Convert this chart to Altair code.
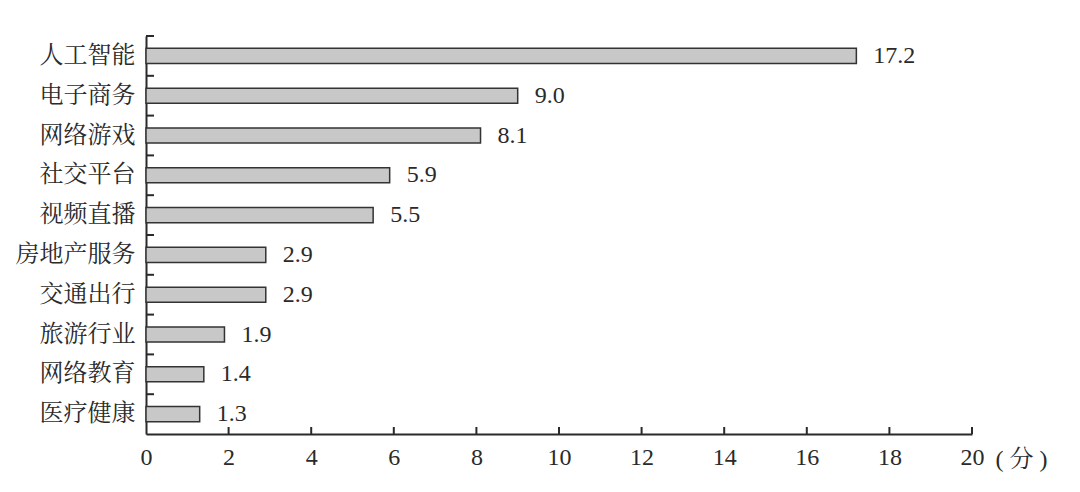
import altair as alt
import pandas as pd

categories = ["人工智能", "电子商务", "网络游戏", "社交平台", "视频直播",
              "房地产服务", "交通出行", "旅游行业", "网络教育", "医疗健康"]
values = [17.2, 9.0, 8.1, 5.9, 5.5, 2.9, 2.9, 1.9, 1.4, 1.3]
x_ticks = [2, 4, 6, 8, 10, 12, 14, 16, 18, 20]

df = pd.DataFrame({"cat": categories, "val": values,
                   "lab": [f"{v:.1f}" for v in values]})
ticks_df = pd.DataFrame({"t": x_ticks})

W, H = 826, 398
FONT = "Liberation Serif, Noto Serif CJK SC, Noto Sans CJK SC"
INK = "#2a2a2a"

xscale = alt.Scale(domain=[0, 20], nice=False, zero=True)
yscale = alt.Scale(domain=categories, paddingInner=0, paddingOuter=0)

xaxis = alt.Axis(values=[0] + x_ticks, format="d", tickSize=0,
                 labelPadding=11, labelFontSize=24, labelFont=FONT,
                 labelColor=INK, domainColor=INK, domainWidth=2,
                 labelFlush=False, labelBound=False, labelOverlap=False,
                 grid=False, title="( 分 )", titleFont=FONT,
                 titleFontSize=24, titleFontWeight="normal",
                 titleColor=INK, titleAlign="left",
                 titleBaseline="alphabetic", titleAnchor="start",
                 titleX=W + 23, titleY=32)
yaxis = alt.Axis(tickSize=0, labelPadding=11, labelFontSize=24,
                 labelFont=FONT, labelColor=INK, domainColor=INK,
                 domainWidth=2, title=None, grid=False)

base = alt.Chart(df)

bars = base.mark_bar(
    height=alt.RelativeBandSize(0.38), fill="#c8c8c8", stroke="#333333",
    strokeWidth=1.5
).encode(
    x=alt.X("val:Q", scale=xscale, axis=xaxis),
    y=alt.Y("cat:N", scale=yscale, sort=categories, axis=yaxis),
)

texts = base.mark_text(
    align="left", baseline="middle", dx=17, fontSize=24, font=FONT, color=INK
).encode(
    x=alt.X("val:Q", scale=xscale, axis=xaxis),
    y=alt.Y("cat:N", scale=yscale, sort=categories, axis=yaxis),
    text="lab:N",
)

ytick = base.mark_rule(color=INK, strokeWidth=2).encode(
    y=alt.Y("cat:N", scale=yscale, sort=categories, bandPosition=0, axis=yaxis),
    x=alt.value(0), x2=alt.value(8),
)

xtick = alt.Chart(ticks_df).mark_rule(color=INK, strokeWidth=2).encode(
    x=alt.X("t:Q", scale=xscale, axis=xaxis),
    y=alt.value(H - 7), y2=alt.value(H),
)

chart = alt.layer(bars, texts, ytick, xtick).properties(
    width=W, height=H,
    background="white",
    autosize=alt.AutoSizeParams(type="none"),
    padding={"left": 138, "top": 28, "right": 100, "bottom": 50},
).configure_view(strokeWidth=0, stroke=None)

chart.save("out.html", embed_options={"renderer": "svg", "actions": False})
